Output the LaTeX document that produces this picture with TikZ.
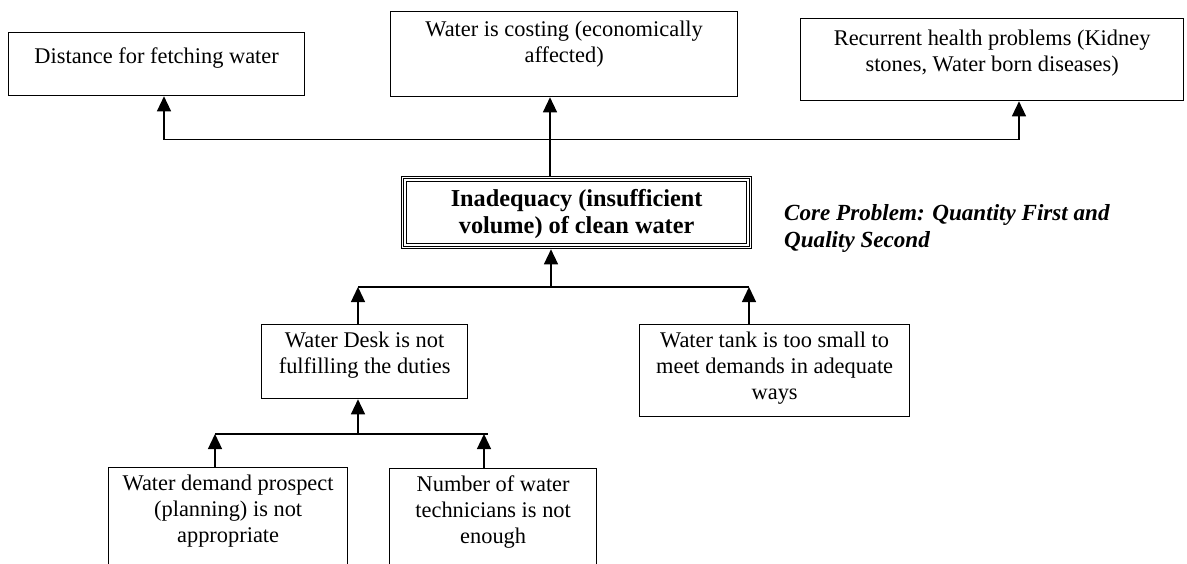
\documentclass[tikz,border=0pt]{standalone}
\usepackage{fontspec}
\setmainfont{Liberation Serif}
\usetikzlibrary{arrows.meta}
% width, height, first-baseline offset, text
\newcommand{\boxtxt}[4]{\parbox[c][#2][t]{#1}{\centering\rule{0pt}{#3}#4}}
\begin{document}
\begin{tikzpicture}[x=1pt,y=-1pt,
  box/.style={draw, line width=1.3pt, inner sep=0pt, anchor=north west},
  link/.style={line width=1.3pt},
  arr/.style={link, -{Triangle[width=14pt,length=15pt]}},
  font=\fontsize{22.4}{26}\selectfont]
\useasboundingbox (0,0) rectangle (1187,563);
\clip (0,0) rectangle (1187,563);

% effects
\node[box] (b1) at (8,32) {\boxtxt{296pt}{63pt}{31pt}{Distance for fetching water}};
\node[box] (b2) at (390,11) {\boxtxt{347pt}{85pt}{25pt}{Water is costing (economically\\affected)}};
\node[box] (b3) at (800,18) {\boxtxt{383pt}{82pt}{26.5pt}{Recurrent health problems (Kidney\\stones, Water born diseases)}};

% core problem
\node[box] (core) at (401,176) {\boxtxt{350pt}{72pt}{30pt}{\fontsize{24.3}{27}\selectfont\bfseries Inadequacy (insufficient\\volume) of clean water}};
\draw[line width=0.9pt] ([shift={(2.8pt,-2.8pt)}]core.north west) rectangle ([shift={(-2.8pt,2.8pt)}]core.south east);
\draw[line width=0.9pt] ([shift={(5.6pt,-5.6pt)}]core.north west) rectangle ([shift={(-5.6pt,5.6pt)}]core.south east);
\node[anchor=base west, inner sep=0pt] (note) at (784,220)
  {\parbox[t]{400pt}{\fontsize{23.1}{27}\selectfont\bfseries\itshape Core Problem: Quantity First and\\Quality Second}};

% causes
\node[box] (wd) at (261,324) {\boxtxt{206pt}{74pt}{23pt}{Water Desk is not\\fulfilling the duties}};
\node[box] (wt) at (639,324) {\boxtxt{270pt}{92pt}{23pt}{Water tank is too small to\\meet demands in adequate\\ways}};
\node[box] (wdp) at (108,467) {\boxtxt{239pt}{110pt}{23pt}{Water demand prospect\\(planning) is not\\appropriate}};
\node[box] (nt) at (389,468) {\boxtxt{207pt}{110pt}{23pt}{Number of water\\technicians is not\\enough}};

% junctions
\coordinate (t1) at (164,139.5);
\coordinate (tc) at (550,139.5);
\coordinate (t3) at (1019,139.5);
\coordinate (m1) at (358,287);
\coordinate (mc) at (551,287);
\coordinate (m2) at (749,287);
\coordinate (l1) at (215,434);
\coordinate (lc) at (358,434);
\coordinate (l2) at (484,434);

% core -> effects
\draw[link] (t1) -- (t3);
\draw[arr] (t1) -- (t1 |- b1.south);
\draw[arr] (t3) -- (t3 |- b3.south);
\draw[arr] (tc |- core.north) -- (tc |- b2.south);

% causes -> core
\draw[link] (m1) -- (m2);
\draw[arr] (mc) -- (mc |- core.south);
\draw[arr] (m1 |- wd.north) -- (m1);
\draw[arr] (m2 |- wt.north) -- (m2);

% sub-causes -> water desk
\draw[link] (l1) -- ([xshift=4pt]l2);
\draw[arr] (lc) -- (lc |- wd.south);
\draw[arr] (l1 |- wdp.north) -- (l1);
\draw[arr] (l2 |- nt.north) -- (l2);
\end{tikzpicture}
\end{document}
